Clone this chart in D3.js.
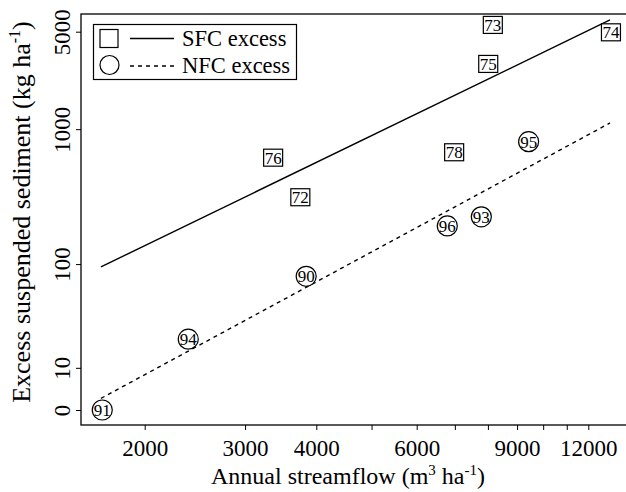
<!DOCTYPE html>
<html>
<head>
<meta charset="utf-8">
<script src="https://cdn.jsdelivr.net/npm/d3@7"></script>
<style>
  body { margin: 0; background: #fff; }
  text { font-family: "Liberation Serif", "Times New Roman", serif; fill: #000; }
</style>
</head>
<body>
<svg id="chart" width="626" height="492"></svg>
<script>
// SFC excess (squares), labelled by year
var sfcYears = ["72", "73", "74", "75", "76", "78"];
var sfcFlow = [3750, 8160, 13150, 8010, 3360, 6980];
var sfcSediment = [320, 5590, 4950, 2940, 622, 681];

// NFC excess (circles)
var nfcYears = ["90", "91", "93", "94", "95", "96"];
var nfcFlow = [3840, 1685, 7790, 2385, 9430, 6790];
var nfcSediment = [80, 0, 229, 22, 812, 196];

// fitted lines, two end points each
var sfcLineFlow = [1676, 13100];
var sfcLineSediment = [95, 6070];
var nfcLineFlow = [1676, 13100];
var nfcLineSediment = [2.1, 1108];

var xTicks = [2000, 3000, 4000, 5000, 6000, 7000, 8000, 9000, 10000, 11000, 12000];
var xLabels = [2000, 3000, 4000, 6000, 9000, 12000];
var yTicks = [0, 10, 100, 1000, 5000];
var yOffset = 10; // y axis is log(sediment + 10)

var frame = { left: 81, top: 14, right: 628, bottom: 425 };

var svg = d3.select("#chart");

var x = d3.scaleLog()
    .domain([2000, 12000])
    .range([144.7, 588.3]);

var yLog = d3.scaleLog()
    .domain([0 + yOffset, 5000 + yOffset])
    .range([410, 31.7]);
function y(v) { return yLog(v + yOffset); }

// frame
svg.append("rect")
    .attr("x", frame.left)
    .attr("y", frame.top)
    .attr("width", frame.right - frame.left)
    .attr("height", frame.bottom - frame.top)
    .attr("fill", "none")
    .attr("stroke", "#000")
    .attr("stroke-width", 1.3);

// x axis
var xAxis = svg.append("g")
    .attr("transform", "translate(0," + frame.bottom + ")")
    .call(d3.axisBottom(x)
      .tickValues(xTicks)
      .tickSize(5)
      .tickFormat(function(d) { return xLabels.indexOf(d) >= 0 ? d : ""; }));
xAxis.select(".domain").remove();
xAxis.selectAll("line").attr("stroke", "#000");
xAxis.selectAll("text")
    .attr("y", 31)
    .attr("dy", 0)
    .style("font-size", "23px")
    .style("font-family", "Liberation Serif");

// y axis
var yAxis = svg.append("g")
    .attr("transform", "translate(" + frame.left + ",0)")
    .call(d3.axisLeft(yLog)
      .tickValues(yTicks.map(function(d) { return d + yOffset; }))
      .tickSize(5)
      .tickFormat(function(d) { return d - yOffset; }));
yAxis.select(".domain").remove();
yAxis.selectAll("line").attr("stroke", "#000");
yAxis.selectAll("text")
    .attr("x", 0)
    .attr("dy", 0)
    .attr("transform", "translate(-11,0) rotate(-90)")
    .style("text-anchor", "middle")
    .style("font-size", "23px")
    .style("font-family", "Liberation Serif");

// fitted lines
var line = d3.line()
    .x(function(d) { return x(d[0]); })
    .y(function(d) { return y(d[1]); });

svg.append("path")
    .datum(d3.zip(sfcLineFlow, sfcLineSediment))
    .attr("d", line)
    .attr("fill", "none")
    .attr("stroke", "#000")
    .attr("stroke-width", 1.4);

svg.append("path")
    .datum(d3.zip(nfcLineFlow, nfcLineSediment))
    .attr("d", line)
    .attr("fill", "none")
    .attr("stroke", "#000")
    .attr("stroke-width", 1.4)
    .attr("stroke-dasharray", "4,4");

// squares
var sfc = svg.selectAll(".sfc")
    .data(d3.range(sfcYears.length))
    .enter()
    .append("g")
    .attr("transform", function(i) { return "translate(" + x(sfcFlow[i]) + "," + y(sfcSediment[i]) + ")"; });
sfc.append("rect")
    .attr("x", -9.5)
    .attr("y", -8.5)
    .attr("width", 19)
    .attr("height", 17)
    .attr("fill", "#fff")
    .attr("stroke", "#000")
    .attr("stroke-width", 1.2);
sfc.append("text")
    .attr("text-anchor", "middle")
    .attr("dy", "0.35em")
    .style("font-size", "17px")
    .text(function(i) { return sfcYears[i]; });

// circles
var nfc = svg.selectAll(".nfc")
    .data(d3.range(nfcYears.length))
    .enter()
    .append("g")
    .attr("transform", function(i) { return "translate(" + x(nfcFlow[i]) + "," + y(nfcSediment[i]) + ")"; });
nfc.append("circle")
    .attr("r", 10)
    .attr("fill", "#fff")
    .attr("stroke", "#000")
    .attr("stroke-width", 1.2);
nfc.append("text")
    .attr("text-anchor", "middle")
    .attr("dy", "0.35em")
    .style("font-size", "17px")
    .text(function(i) { return nfcYears[i]; });

// legend
var legend = svg.append("g");
legend.append("rect")
    .attr("x", 93.5).attr("y", 24.5)
    .attr("width", 203).attr("height", 55)
    .attr("fill", "#fff")
    .attr("stroke", "#000")
    .attr("stroke-width", 1.2);
legend.append("rect")
    .attr("x", 100).attr("y", 29.5)
    .attr("width", 18).attr("height", 18)
    .attr("fill", "none")
    .attr("stroke", "#000")
    .attr("stroke-width", 1.2);
legend.append("circle")
    .attr("cx", 109.5).attr("cy", 65)
    .attr("r", 9.5)
    .attr("fill", "none")
    .attr("stroke", "#000")
    .attr("stroke-width", 1.2);
legend.append("line")
    .attr("x1", 130).attr("x2", 174).attr("y1", 38.5).attr("y2", 38.5)
    .attr("stroke", "#000").attr("stroke-width", 1.3);
legend.append("line")
    .attr("x1", 130).attr("x2", 174).attr("y1", 66).attr("y2", 66)
    .attr("stroke", "#000").attr("stroke-width", 1.3)
    .attr("stroke-dasharray", "4,4");
legend.append("text")
    .attr("x", 182).attr("y", 46)
    .style("font-size", "22.5px")
    .text("SFC excess");
legend.append("text")
    .attr("x", 182).attr("y", 73)
    .style("font-size", "22.5px")
    .text("NFC excess");

// axis titles
var xTitle = svg.append("text")
    .attr("x", 348)
    .attr("y", 484)
    .style("text-anchor", "middle")
    .style("font-size", "24px");
xTitle.append("tspan").text("Annual streamflow (m");
xTitle.append("tspan").attr("dy", -9).style("font-size", "15px").text("3");
xTitle.append("tspan").attr("dy", 9).text(" ha");
xTitle.append("tspan").attr("dy", -9).style("font-size", "15px").text("-1");
xTitle.append("tspan").attr("dy", 9).text(")");

var yTitle = svg.append("text")
    .attr("transform", "translate(30,212) rotate(-90)")
    .style("text-anchor", "middle")
    .style("font-size", "26px");
yTitle.append("tspan").text("Excess suspended sediment (kg ha");
yTitle.append("tspan").attr("dy", -10).style("font-size", "16px").text("-1");
yTitle.append("tspan").attr("dy", 10).text(")");
</script>
</body>
</html>
